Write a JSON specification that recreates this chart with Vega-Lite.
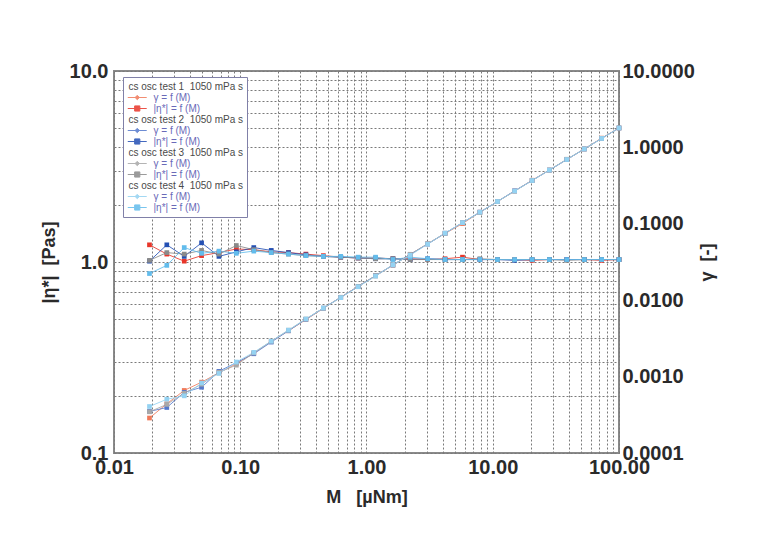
{
  "$schema": "https://vega.github.io/schema/vega-lite/v6.json",
  "width": 505,
  "height": 382,
  "autosize": {"type": "none"},
  "padding": {"left": 114, "top": 71, "right": 139, "bottom": 101},
  "background": "white",
  "config": {
    "view": {"stroke": "#8a8a8a", "strokeWidth": 2},
    "axis": {
      "labelFont": "Liberation Sans", "titleFont": "Liberation Sans",
      "labelFontSize": 20, "titleFontSize": 18, "labelColor": "#2a2a2a", "titleColor": "#2a2a2a",
      "labelFontWeight": "bold", "titleFontWeight": "bold", "domain": false, "ticks": false, "labelFlush": false, "labelOverlap": false,
      "gridColor": "#7a7a7a", "gridDash": [2, 2], "gridWidth": 1, "gridOpacity": 1
    },
    "legend": {
      "orient": "none", "legendX": 9, "legendY": 6,
      "labelFont": "Liberation Sans", "labelFontSize": 10,
      "symbolSize": 90, "symbolStrokeWidth": 1, "rowPadding": -1.3, "padding": 4,
      "strokeColor": "#8080a8", "fillColor": "white"
    }
  },
  "datasets": {
    "d": [
      {"M":0.0191,"eta":1.23,"gam":0.000287,"ek":"e1","gk":"g1"},
      {"M":0.0262,"eta":1.10,"gam":0.000441,"ek":"e1","gk":"g1"},
      {"M":0.036,"eta":1.01,"gam":0.000659,"ek":"e1","gk":"g1"},
      {"M":0.0494,"eta":1.08,"gam":0.000846,"ek":"e1","gk":"g1"},
      {"M":0.0678,"eta":1.12,"gam":0.00112,"ek":"e1","gk":"g1"},
      {"M":0.0931,"eta":1.17,"gam":0.00147,"ek":"e1","gk":"g1"},
      {"M":0.128,"eta":1.16,"gam":0.00204,"ek":"e1","gk":"g1"},
      {"M":0.176,"eta":1.13,"gam":0.00288,"ek":"e1","gk":"g1"},
      {"M":0.241,"eta":1.12,"gam":0.00398,"ek":"e1","gk":"g1"},
      {"M":0.331,"eta":1.10,"gam":0.00557,"ek":"e1","gk":"g1"},
      {"M":0.455,"eta":1.08,"gam":0.00779,"ek":"e1","gk":"g1"},
      {"M":0.625,"eta":1.06,"gam":0.01091,"ek":"e1","gk":"g1"},
      {"M":0.859,"eta":1.05,"gam":0.01513,"ek":"e1","gk":"g1"},
      {"M":1.18,"eta":1.05,"gam":0.02079,"ek":"e1","gk":"g1"},
      {"M":1.62,"eta":1.04,"gam":0.02882,"ek":"e1","gk":"g1"},
      {"M":2.22,"eta":1.04,"gam":0.03949,"ek":"e1","gk":"g1"},
      {"M":3.05,"eta":1.03,"gam":0.05479,"ek":"e1","gk":"g1"},
      {"M":4.19,"eta":1.04,"gam":0.07454,"ek":"e1","gk":"g1"},
      {"M":5.76,"eta":1.06,"gam":0.1006,"ek":"e1","gk":"g1"},
      {"M":7.91,"eta":1.03,"gam":0.142,"ek":"e1","gk":"g1"},
      {"M":10.9,"eta":1.03,"gam":0.1958,"ek":"e1","gk":"g1"},
      {"M":14.9,"eta":1.03,"gam":0.2677,"ek":"e1","gk":"g1"},
      {"M":20.5,"eta":1.02,"gam":0.3719,"ek":"e1","gk":"g1"},
      {"M":28.1,"eta":1.03,"gam":0.5048,"ek":"e1","gk":"g1"},
      {"M":38.6,"eta":1.03,"gam":0.6933,"ek":"e1","gk":"g1"},
      {"M":53.1,"eta":1.03,"gam":0.9538,"ek":"e1","gk":"g1"},
      {"M":72.9,"eta":1.02,"gam":1.323,"ek":"e1","gk":"g1"},
      {"M":100,"eta":1.03,"gam":1.796,"ek":"e1","gk":"g1"},

      {"M":0.0191,"eta":1.01,"gam":0.00035,"ek":"e2","gk":"g2"},
      {"M":0.0262,"eta":1.23,"gam":0.000394,"ek":"e2","gk":"g2"},
      {"M":0.036,"eta":1.07,"gam":0.000622,"ek":"e2","gk":"g2"},
      {"M":0.0494,"eta":1.26,"gam":0.000725,"ek":"e2","gk":"g2"},
      {"M":0.0678,"eta":1.07,"gam":0.001172,"ek":"e2","gk":"g2"},
      {"M":0.0931,"eta":1.13,"gam":0.001524,"ek":"e2","gk":"g2"},
      {"M":0.128,"eta":1.19,"gam":0.00199,"ek":"e2","gk":"g2"},
      {"M":0.176,"eta":1.15,"gam":0.00283,"ek":"e2","gk":"g2"},
      {"M":0.241,"eta":1.12,"gam":0.00398,"ek":"e2","gk":"g2"},
      {"M":0.331,"eta":1.09,"gam":0.00562,"ek":"e2","gk":"g2"},
      {"M":0.455,"eta":1.07,"gam":0.00787,"ek":"e2","gk":"g2"},
      {"M":0.625,"eta":1.06,"gam":0.01091,"ek":"e2","gk":"g2"},
      {"M":0.859,"eta":1.05,"gam":0.01513,"ek":"e2","gk":"g2"},
      {"M":1.18,"eta":1.04,"gam":0.02099,"ek":"e2","gk":"g2"},
      {"M":1.62,"eta":1.04,"gam":0.02882,"ek":"e2","gk":"g2"},
      {"M":2.22,"eta":1.03,"gam":0.03987,"ek":"e2","gk":"g2"},
      {"M":3.05,"eta":1.04,"gam":0.05426,"ek":"e2","gk":"g2"},
      {"M":4.19,"eta":1.03,"gam":0.07526,"ek":"e2","gk":"g2"},
      {"M":5.76,"eta":1.03,"gam":0.1035,"ek":"e2","gk":"g2"},
      {"M":7.91,"eta":1.03,"gam":0.142,"ek":"e2","gk":"g2"},
      {"M":10.9,"eta":1.03,"gam":0.1958,"ek":"e2","gk":"g2"},
      {"M":14.9,"eta":1.02,"gam":0.2703,"ek":"e2","gk":"g2"},
      {"M":20.5,"eta":1.03,"gam":0.3683,"ek":"e2","gk":"g2"},
      {"M":28.1,"eta":1.03,"gam":0.5048,"ek":"e2","gk":"g2"},
      {"M":38.6,"eta":1.03,"gam":0.6933,"ek":"e2","gk":"g2"},
      {"M":53.1,"eta":1.03,"gam":0.9538,"ek":"e2","gk":"g2"},
      {"M":72.9,"eta":1.03,"gam":1.31,"ek":"e2","gk":"g2"},
      {"M":100,"eta":1.03,"gam":1.796,"ek":"e2","gk":"g2"},

      {"M":0.0191,"eta":1.02,"gam":0.000346,"ek":"e3","gk":"g3"},
      {"M":0.0262,"eta":1.12,"gam":0.000433,"ek":"e3","gk":"g3"},
      {"M":0.036,"eta":1.10,"gam":0.000605,"ek":"e3","gk":"g3"},
      {"M":0.0494,"eta":1.15,"gam":0.000795,"ek":"e3","gk":"g3"},
      {"M":0.0678,"eta":1.10,"gam":0.00114,"ek":"e3","gk":"g3"},
      {"M":0.0931,"eta":1.22,"gam":0.001411,"ek":"e3","gk":"g3"},
      {"M":0.128,"eta":1.16,"gam":0.00204,"ek":"e3","gk":"g3"},
      {"M":0.176,"eta":1.12,"gam":0.00291,"ek":"e3","gk":"g3"},
      {"M":0.241,"eta":1.10,"gam":0.00405,"ek":"e3","gk":"g3"},
      {"M":0.331,"eta":1.08,"gam":0.00567,"ek":"e3","gk":"g3"},
      {"M":0.455,"eta":1.07,"gam":0.00787,"ek":"e3","gk":"g3"},
      {"M":0.625,"eta":1.06,"gam":0.01091,"ek":"e3","gk":"g3"},
      {"M":0.859,"eta":1.05,"gam":0.01513,"ek":"e3","gk":"g3"},
      {"M":1.18,"eta":1.04,"gam":0.02099,"ek":"e3","gk":"g3"},
      {"M":1.62,"eta":1.04,"gam":0.02882,"ek":"e3","gk":"g3"},
      {"M":2.22,"eta":1.03,"gam":0.03987,"ek":"e3","gk":"g3"},
      {"M":3.05,"eta":1.03,"gam":0.05479,"ek":"e3","gk":"g3"},
      {"M":4.19,"eta":1.03,"gam":0.07526,"ek":"e3","gk":"g3"},
      {"M":5.76,"eta":1.03,"gam":0.1035,"ek":"e3","gk":"g3"},
      {"M":7.91,"eta":1.04,"gam":0.1407,"ek":"e3","gk":"g3"},
      {"M":10.9,"eta":1.03,"gam":0.1958,"ek":"e3","gk":"g3"},
      {"M":14.9,"eta":1.03,"gam":0.2677,"ek":"e3","gk":"g3"},
      {"M":20.5,"eta":1.03,"gam":0.3683,"ek":"e3","gk":"g3"},
      {"M":28.1,"eta":1.03,"gam":0.5048,"ek":"e3","gk":"g3"},
      {"M":38.6,"eta":1.02,"gam":0.7001,"ek":"e3","gk":"g3"},
      {"M":53.1,"eta":1.03,"gam":0.9538,"ek":"e3","gk":"g3"},
      {"M":72.9,"eta":1.03,"gam":1.31,"ek":"e3","gk":"g3"},
      {"M":100,"eta":1.03,"gam":1.796,"ek":"e3","gk":"g3"},

      {"M":0.0191,"eta":0.87,"gam":0.000406,"ek":"e4","gk":"g4"},
      {"M":0.0262,"eta":0.96,"gam":0.000505,"ek":"e4","gk":"g4"},
      {"M":0.036,"eta":1.19,"gam":0.00056,"ek":"e4","gk":"g4"},
      {"M":0.0494,"eta":1.11,"gam":0.000823,"ek":"e4","gk":"g4"},
      {"M":0.0678,"eta":1.14,"gam":0.0011,"ek":"e4","gk":"g4"},
      {"M":0.0931,"eta":1.11,"gam":0.001551,"ek":"e4","gk":"g4"},
      {"M":0.128,"eta":1.14,"gam":0.002077,"ek":"e4","gk":"g4"},
      {"M":0.176,"eta":1.12,"gam":0.002907,"ek":"e4","gk":"g4"},
      {"M":0.241,"eta":1.10,"gam":0.004054,"ek":"e4","gk":"g4"},
      {"M":0.331,"eta":1.08,"gam":0.00567,"ek":"e4","gk":"g4"},
      {"M":0.455,"eta":1.07,"gam":0.007867,"ek":"e4","gk":"g4"},
      {"M":0.625,"eta":1.07,"gam":0.0108,"ek":"e4","gk":"g4"},
      {"M":0.859,"eta":1.06,"gam":0.01499,"ek":"e4","gk":"g4"},
      {"M":1.18,"eta":1.06,"gam":0.0206,"ek":"e4","gk":"g4"},
      {"M":1.62,"eta":1.03,"gam":0.0291,"ek":"e4","gk":"g4"},
      {"M":2.22,"eta":1.06,"gam":0.03875,"ek":"e4","gk":"g4"},
      {"M":3.05,"eta":1.04,"gam":0.05426,"ek":"e4","gk":"g4"},
      {"M":4.19,"eta":1.03,"gam":0.07526,"ek":"e4","gk":"g4"},
      {"M":5.76,"eta":1.03,"gam":0.1035,"ek":"e4","gk":"g4"},
      {"M":7.91,"eta":1.03,"gam":0.142,"ek":"e4","gk":"g4"},
      {"M":10.9,"eta":1.03,"gam":0.1958,"ek":"e4","gk":"g4"},
      {"M":14.9,"eta":1.03,"gam":0.2677,"ek":"e4","gk":"g4"},
      {"M":20.5,"eta":1.03,"gam":0.3683,"ek":"e4","gk":"g4"},
      {"M":28.1,"eta":1.03,"gam":0.5048,"ek":"e4","gk":"g4"},
      {"M":38.6,"eta":1.03,"gam":0.6933,"ek":"e4","gk":"g4"},
      {"M":53.1,"eta":1.03,"gam":0.9538,"ek":"e4","gk":"g4"},
      {"M":72.9,"eta":1.03,"gam":1.31,"ek":"e4","gk":"g4"},
      {"M":100,"eta":1.03,"gam":1.796,"ek":"e4","gk":"g4"}
    ]
  },
  "data": {"name": "d"},
  "encoding": {
    "x": {
      "field": "M", "type": "quantitative",
      "scale": {"type": "log", "domain": [0.01, 100], "nice": false},
      "axis": {
        "title": "M\u00a0\u00a0\u00a0[µNm]", "grid": true, "labelPadding": 4, "titlePadding": 11,
        "values": [0.01,0.02,0.03,0.04,0.05,0.06,0.07,0.08,0.09,0.1,0.2,0.3,0.4,0.5,0.6,0.7,0.8,0.9,1,2,3,4,5,6,7,8,9,10,20,30,40,50,60,70,80,90,100],
        "labelExpr": "abs(log(datum.value)/LN10 - round(log(datum.value)/LN10)) < 0.001 ? format(datum.value, '.2f') : ''"
      }
    }
  },
  "layer": [
    {
      "encoding": {
        "y": {
          "field": "eta", "type": "quantitative",
          "scale": {"type": "log", "domain": [0.1, 10], "nice": false},
          "axis": {
            "orient": "left", "title": "|η*|\u00a0\u00a0[Pas]", "grid": true, "labelPadding": 6, "titlePadding": 11,
            "values": [0.1,0.2,0.3,0.4,0.5,0.6,0.7,0.8,0.9,1,2,3,4,5,6,7,8,9,10],
            "labelExpr": "abs(log(datum.value)/LN10 - round(log(datum.value)/LN10)) < 0.001 ? format(datum.value, '.1f') : ''"
          }
        },
        "color": {
          "field": "ek", "type": "nominal",
          "scale": {
            "domain": ["h1","g1","e1","h2","g2","e2","h3","g3","e3","h4","g4","e4"],
            "range": ["transparent","#f07a5a","#e8362a","transparent","#5478cc","#2450b4","transparent","#a8a8a8","#8a8a8a","transparent","#94d2f2","#62bcec"]
          },
          "legend": {
            "title": null,
            "labelExpr": "datum.value[0]==='h' ? 'cs osc test ' + datum.value[1] + '\u00a0 1050 mPa s' : (datum.value[0]==='g' ? 'γ = f (M)' : '|η*| = f (M)')",
            "labelColor": {"expr": "datum.value[0]==='h' ? '#4a4a4a' : '#6a6ab8'"},
            "labelOffset": {"expr": "datum.value[0]==='h' ? -9.5 : 15.5"},
            "symbolType": {"expr": "datum.value[0]==='e' ? 'M-1,0L3,0M0.45,-0.55L1.55,-0.55L1.55,0.55L0.45,0.55Z' : 'M-1,0L3,0M0.55,0L1,-0.45L1.45,0L1,0.45Z'"}
          }
        }
      },
      "layer": [
        {"mark": {"type": "line", "strokeWidth": 1, "opacity": 0.85}},
        {"mark": {"type": "point", "shape": "square", "filled": true, "size": 22, "opacity": 1}}
      ]
    },
    {
      "encoding": {
        "y": {
          "field": "gam", "type": "quantitative",
          "scale": {"type": "log", "domain": [0.0001, 10], "nice": false},
          "axis": {
            "orient": "right", "title": "γ\u00a0\u00a0[-]", "grid": false, "labelPadding": 3, "titlePadding": 22, "titleAngle": 270,
            "values": [0.0001,0.001,0.01,0.1,1,10], "format": ".4f"
          }
        },
        "color": {
          "field": "gk", "type": "nominal",
          "scale": {
            "domain": ["h1","g1","e1","h2","g2","e2","h3","g3","e3","h4","g4","e4"],
            "range": ["transparent","#f07a5a","#e8362a","transparent","#5478cc","#2450b4","transparent","#a8a8a8","#8a8a8a","transparent","#94d2f2","#62bcec"]
          },
          "legend": {
            "title": null,
            "labelExpr": "datum.value[0]==='h' ? 'cs osc test ' + datum.value[1] + '\u00a0 1050 mPa s' : (datum.value[0]==='g' ? 'γ = f (M)' : '|η*| = f (M)')",
            "labelColor": {"expr": "datum.value[0]==='h' ? '#4a4a4a' : '#6a6ab8'"},
            "labelOffset": {"expr": "datum.value[0]==='h' ? -9.5 : 15.5"},
            "symbolType": {"expr": "datum.value[0]==='e' ? 'M-1,0L3,0M0.45,-0.55L1.55,-0.55L1.55,0.55L0.45,0.55Z' : 'M-1,0L3,0M0.55,0L1,-0.45L1.45,0L1,0.45Z'"}
          }
        }
      },
      "layer": [
        {"mark": {"type": "line", "strokeWidth": 1, "opacity": 0.85}},
        {"mark": {"type": "point", "shape": "square", "filled": true, "size": 22, "opacity": 1}}
      ]
    }
  ],
  "resolve": {"scale": {"y": "independent"}}
}
